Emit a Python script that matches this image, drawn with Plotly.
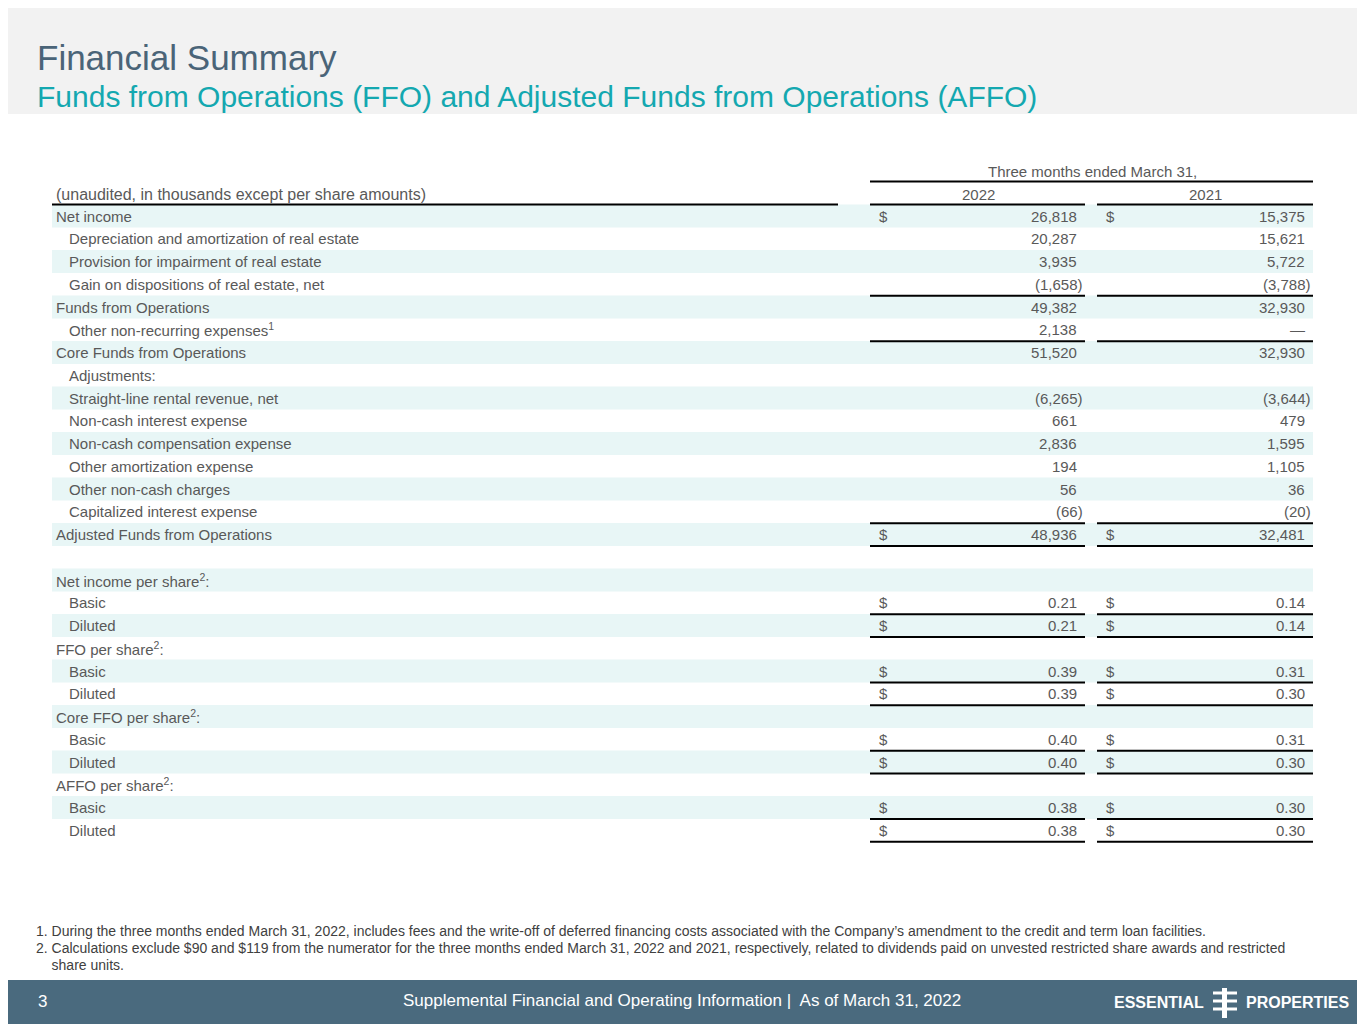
import plotly.graph_objects as go

labels = ["Net income", "Depreciation and amortization of real estate", "Provision for impairment of real estate",
          "Gain on dispositions of real estate, net", "Funds from Operations", "Other non-recurring expenses<sup>1</sup>",
          "Core Funds from Operations", "Adjustments:", "Straight-line rental revenue, net", "Non-cash interest expense",
          "Non-cash compensation expense", "Other amortization expense", "Other non-cash charges",
          "Capitalized interest expense", "Adjusted Funds from Operations", "",
          "Net income per share<sup>2</sup>:", "Basic", "Diluted", "FFO per share<sup>2</sup>:", "Basic", "Diluted",
          "Core FFO per share<sup>2</sup>:", "Basic", "Diluted", "AFFO per share<sup>2</sup>:", "Basic", "Diluted"]
indent = [0, 1, 1, 1, 0, 1, 0, 1, 1, 1, 1, 1, 1, 1, 0, 0, 0, 1, 1, 0, 1, 1, 0, 1, 1, 0, 1, 1]
v2022 = ["26,818", "20,287", "3,935", "(1,658)", "49,382", "2,138", "51,520", "", "(6,265)", "661", "2,836", "194",
         "56", "(66)", "48,936", "", "", "0.21", "0.21", "", "0.39", "0.39", "", "0.40", "0.40", "", "0.38", "0.38"]
v2021 = ["15,375", "15,621", "5,722", "(3,788)", "32,930", "—", "32,930", "", "(3,644)", "479", "1,595", "1,105",
         "36", "(20)", "32,481", "", "", "0.14", "0.14", "", "0.31", "0.30", "", "0.31", "0.30", "", "0.30", "0.30"]
dollar_rows = [0, 14, 17, 18, 20, 21, 23, 24, 26, 27]
underline_rows = [3, 5, 13, 14, 17, 18, 20, 21, 23, 24, 26, 27]

GRAY = "#595959"
FONT = "Liberation Sans"
y0, dy = 216, 22.75
OFF = 8  # page offset of the plot area

fig = go.Figure()
shapes, ann = [], []

# header band and footer bar
shapes.append(dict(type="rect", x0=-20, x1=1400, y0=-20, y1=114, fillcolor="#f2f2f2", line_width=0, layer="below"))
shapes.append(dict(type="rect", x0=-20, x1=1400, y0=980, y1=1050, fillcolor="#4a6a7e", line_width=0, layer="below"))

for i, lab in enumerate(labels):
    y = y0 + dy * i
    bold = indent[i] == 0
    if i % 2 == 0 and lab:
        shapes.append(dict(type="rect", x0=52, x1=1313, y0=y - 11.4, y1=y + 11.4,
                           fillcolor="#e8f6f6", line_width=0, layer="below"))
    ann.append(dict(x=54 + 13 * indent[i], y=y, text=lab, xanchor="left", showarrow=False,
                    font=dict(family=FONT, size=15, color=GRAY)))
    for val, xr, xd in [(v2022[i], 1085, 877), (v2021[i], 1313, 1104)]:
        if val:
            ann.append(dict(x=xr if val.endswith(")") else xr - 6, y=y, text=val, xanchor="right",
                            showarrow=False, font=dict(family=FONT, size=15, color=GRAY)))
        if i in dollar_rows:
            ann.append(dict(x=xd, y=y, text="$", xanchor="left", showarrow=False,
                            font=dict(family=FONT, size=15, color=GRAY)))
    if i in underline_rows:
        for a, b in [(870, 1085), (1097, 1313)]:
            shapes.append(dict(type="line", x0=a, x1=b, y0=y + 11.5, y1=y + 11.5, line=dict(color="black", width=2)))

# column header
ann += [
    dict(x=1092, y=171, text="Three months ended March 31,", showarrow=False,
         font=dict(family=FONT, size=15, color=GRAY)),
    dict(x=978, y=194, text="2022", showarrow=False, font=dict(family=FONT, size=15, color=GRAY)),
    dict(x=1205, y=194, text="2021", showarrow=False, font=dict(family=FONT, size=15, color=GRAY)),
    dict(x=54, y=194, text="(unaudited, in thousands except per share amounts)", xanchor="left", showarrow=False,
         font=dict(family=FONT, size=16, color=GRAY)),
]
shapes.append(dict(type="line", x0=870, x1=1313, y0=181.5, y1=181.5, line=dict(color="black", width=2)))
for a, b in [(52, 838), (870, 1085), (1097, 1313)]:
    shapes.append(dict(type="line", x0=a, x1=b, y0=204.5, y1=204.5, line=dict(color="black", width=2)))

# titles
ann += [
    dict(x=35, y=57, text="Financial Summary", xanchor="left", showarrow=False,
         font=dict(family=FONT, size=35, color="#4a6478")),
    dict(x=35, y=96, text="Funds from Operations (FFO) and Adjusted Funds from Operations (AFFO)", xanchor="left",
         showarrow=False, font=dict(family=FONT, size=30, color="#14a8b0")),
]

# footnotes
notes = ["1. During the three months ended March 31, 2022, includes fees and the write-off of deferred financing costs associated with the Company’s amendment to the credit and term loan facilities.",
         "2. Calculations exclude $90 and $119 from the numerator for the three months ended March 31, 2022 and 2021, respectively, related to dividends paid on unvested restricted share awards and restricted",
         "    share units."]
for k, n in enumerate(notes):
    ann.append(dict(x=34, y=931 + 17 * k, text=n, xanchor="left", showarrow=False,
                    font=dict(family=FONT, size=14, color="#404040")))

# footer
ann += [
    dict(x=36, y=1001, text="3", xanchor="left", showarrow=False, font=dict(family=FONT, size=17, color="white")),
    dict(x=682, y=1000, text="Supplemental Financial and Operating Information |  As of March 31, 2022",
         showarrow=False, font=dict(family=FONT, size=17, color="white")),
    dict(x=1206, y=1002, text="<b>ESSENTIAL</b>", xanchor="right", showarrow=False,
         font=dict(family=FONT, size=16, color="white")),
    dict(x=1244, y=1002, text="<b>PROPERTIES</b>", xanchor="left", showarrow=False,
         font=dict(family=FONT, size=16, color="white")),
]
# logo mark
shapes.append(dict(type="rect", x0=1222, x1=1227, y0=988, y1=1018, fillcolor="white", line_width=0))
for yy in [993, 1001, 1009]:
    shapes.append(dict(type="rect", x0=1213, x1=1237, y0=yy - 1.5, y1=yy + 1.5, fillcolor="white", line_width=0))

fig.add_trace(go.Scatter(x=[OFF, 1365], y=[OFF, 1024], mode="markers", marker=dict(opacity=0), hoverinfo="skip"))
fig.update_layout(width=1365, height=1024, margin=dict(l=0, r=0, t=0, b=0), showlegend=False,
                  plot_bgcolor="white", paper_bgcolor="white", shapes=shapes, annotations=ann,
                  xaxis=dict(range=[OFF, 1365 + OFF], visible=False, fixedrange=True),
                  yaxis=dict(range=[1024 + OFF, OFF], visible=False, fixedrange=True))
fig.write_html("out.html", config={"displayModeBar": False})
